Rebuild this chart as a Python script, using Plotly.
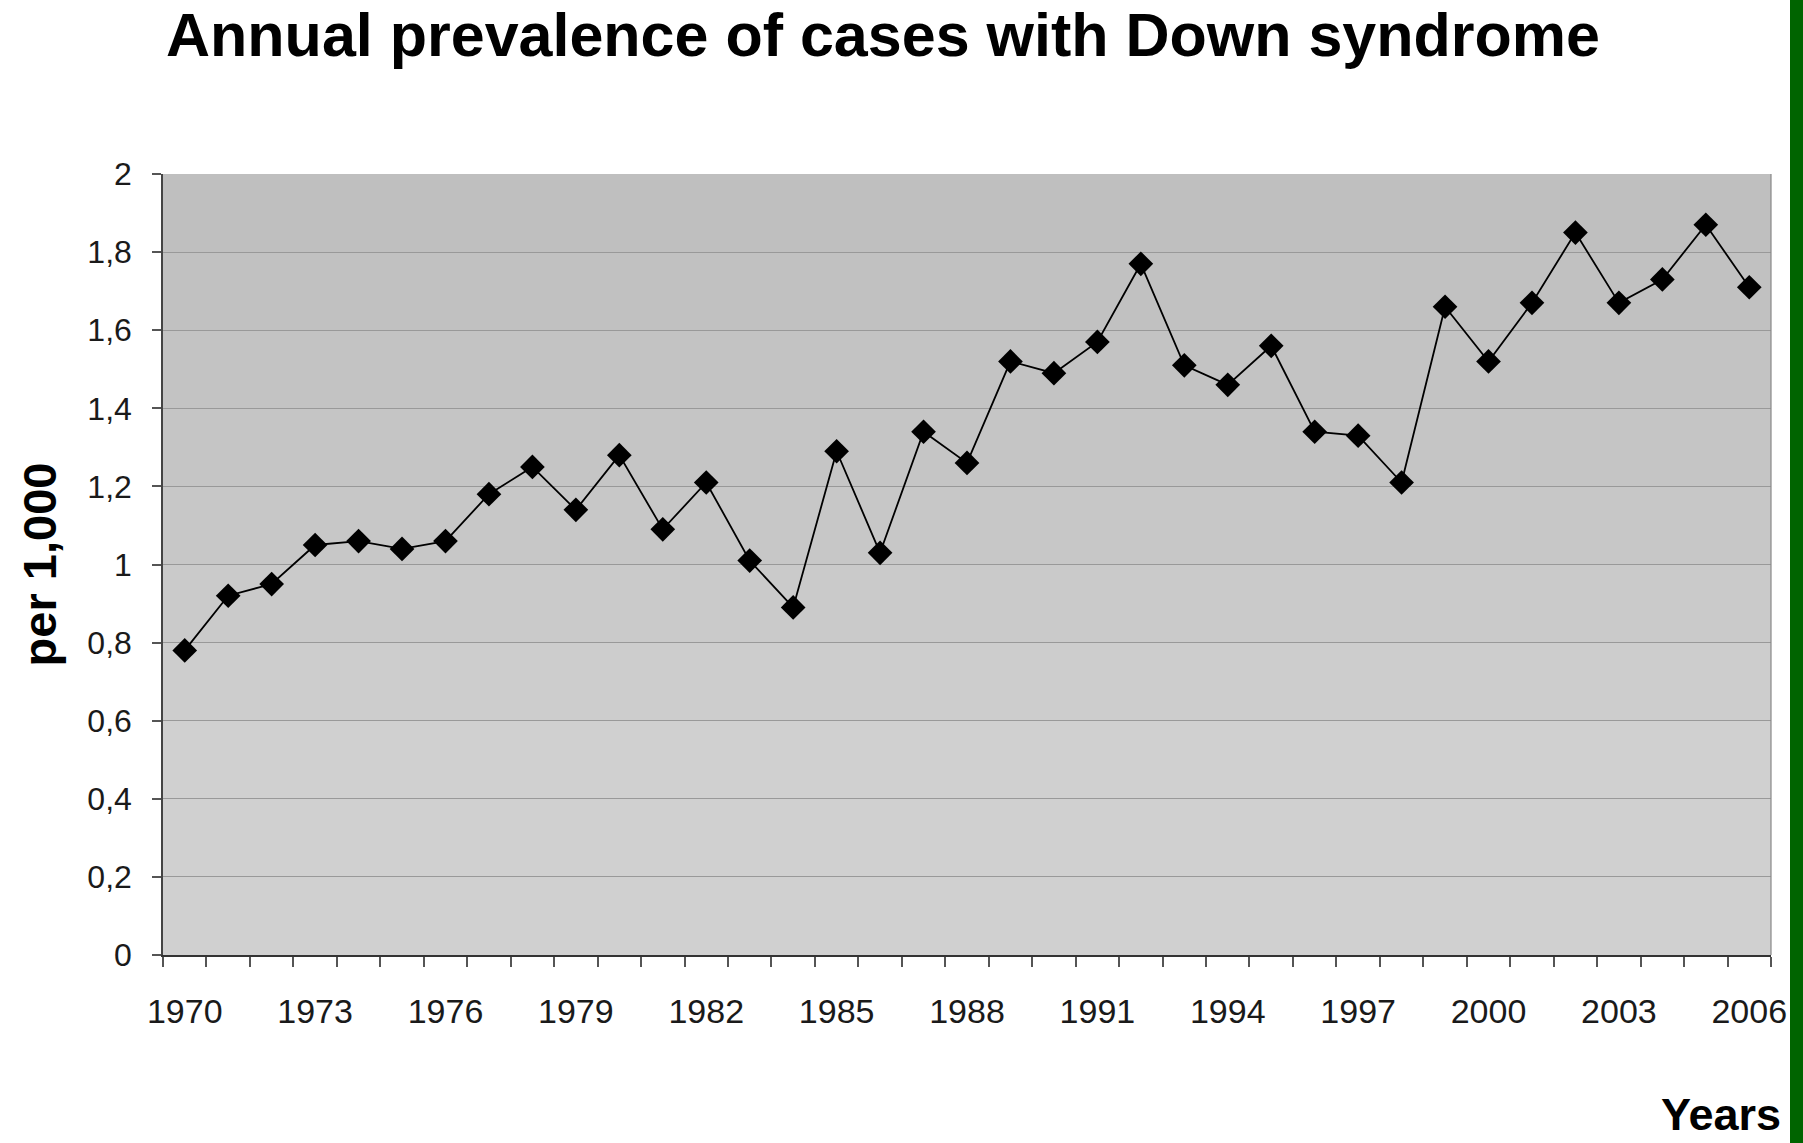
import plotly.graph_objects as go

years = list(range(1970, 2007))
prevalence = [0.78, 0.92, 0.95, 1.05, 1.06, 1.04, 1.06, 1.18, 1.25, 1.14,
              1.28, 1.09, 1.21, 1.01, 0.89, 1.29, 1.03, 1.34, 1.26, 1.52,
              1.49, 1.57, 1.77, 1.51, 1.46, 1.56, 1.34, 1.33, 1.21, 1.66,
              1.52, 1.67, 1.85, 1.67, 1.73, 1.87, 1.71]
x_tick_years = list(range(1970, 2007, 3))
y_tick_values = [0, 0.2, 0.4, 0.6, 0.8, 1.0, 1.2, 1.4, 1.6, 1.8, 2.0]
y_tick_labels = ["0", "0,2", "0,4", "0,6", "0,8", "1", "1,2", "1,4", "1,6", "1,8", "2"]

title_text = "Annual prevalence of cases with Down syndrome"
y_title = "per 1,000"
x_title = "Years"

fig = go.Figure()
fig.add_trace(go.Scatter(
    x=years, y=prevalence, mode="lines+markers",
    line=dict(color="black", width=1.8),
    marker=dict(symbol="diamond", size=19, color="black"),
    showlegend=False,
))

font_family = "Liberation Sans, Arial, sans-serif"

W, H = 1803, 1143
L, R, T, B = 163, 32, 174, 188
plot_w = W - L - R
plot_h = H - T - B

# soft vertical shading of the plot background (darker towards the top)
shade_shapes = [
    dict(type="rect", xref="paper", yref="paper", x0=0, x1=1, y0=k / 10, y1=1,
         fillcolor="#8a8a8a", opacity=0.035, line=dict(width=0), layer="below")
    for k in range(3, 10)
]

fig.update_layout(
    width=W, height=H,
    margin=dict(l=L, r=R, t=T, b=B),
    paper_bgcolor="white",
    plot_bgcolor="#d0d0d0",
    font=dict(family=font_family, color="black"),
    title=dict(text="<b>" + title_text + "</b>", x=883 / W, xanchor="center",
               y=1 - 35 / H, yanchor="middle", font=dict(size=61, color="black")),
    xaxis=dict(
        range=[years[0] - 0.5, years[-1] + 0.5],
        tickmode="array", tickvals=x_tick_years,
        ticktext=[str(v) for v in x_tick_years],
        ticks="", showgrid=False, zeroline=False,
        tickfont=dict(size=34, color="#1a1a1a"),
        ticklabelstandoff=25,
        showline=True, linecolor="#333333", linewidth=2,
        minor=dict(tickmode="array", tickvals=[y - 0.5 for y in years] + [years[-1] + 0.5],
                   ticks="outside", ticklen=10, tickcolor="#555555", tickwidth=1.5,
                   showgrid=False),
    ),
    yaxis=dict(
        range=[0, 2],
        tickmode="array", tickvals=y_tick_values, ticktext=y_tick_labels,
        ticks="outside", ticklen=9, tickcolor="#555555", tickwidth=1.5,
        ticklabelstandoff=14,
        showgrid=True, gridcolor="#999999", gridwidth=1.2,
        zeroline=False,
        showline=True, linecolor="#444444", linewidth=1.5,
        tickfont=dict(size=32, color="#1a1a1a"),
        title=dict(text="<b>" + y_title + "</b>", font=dict(size=47, color="black"),
                   standoff=16),
    ),
    shapes=shade_shapes + [
        dict(type="rect", xref="paper", yref="paper",
             x0=(1790 - L) / plot_w, x1=(W + 20 - L) / plot_w, y0=-0.5, y1=1.5,
             fillcolor="#006400", line=dict(width=0), layer="above"),
        dict(type="line", xref="paper", yref="paper", x0=1, x1=1, y0=0, y1=1,
             line=dict(color="#888888", width=1.2)),
    ],
    annotations=[
        dict(text="<b>" + x_title + "</b>", xref="paper", yref="paper",
             x=(1783 - L) / plot_w, y=-(1114 - (H - B)) / plot_h,
             xanchor="right", yanchor="middle",
             showarrow=False, font=dict(size=45, color="black")),
    ],
)

fig.write_html(
    "out.html",
    config={"displayModeBar": False},
    post_script=("document.body.style.margin='0';"
                 "document.body.style.overflow='hidden';"
                 "document.documentElement.style.overflow='hidden';"),
)
